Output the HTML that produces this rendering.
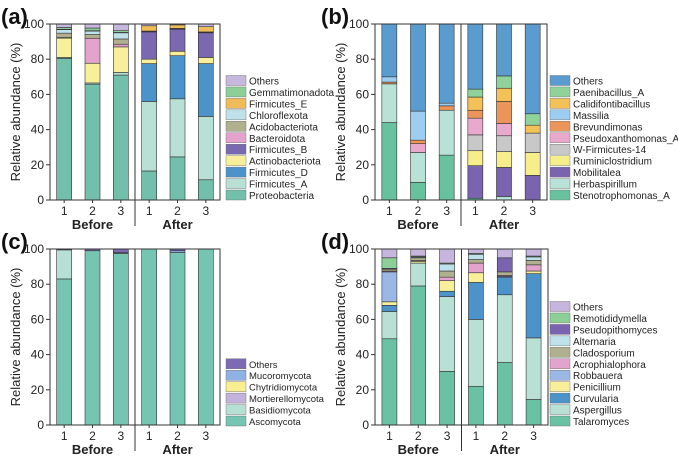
<!DOCTYPE html>
<html><head><meta charset="utf-8"><style>
body{margin:0;background:#fff;}
svg text{font-family:"Liberation Sans",sans-serif;}
</style></head><body>
<svg id="c" width="678" height="457" xmlns="http://www.w3.org/2000/svg"></svg>
<script>
const samples = ["1","2","3","1","2","3"];
const yTicks = [0,20,40,60,80,100];
// Panel a
const aSeries = ["Proteobacteria","Firmicutes_A","Firmicutes_D","Actinobacteriota","Firmicutes_B","Bacteroidota","Acidobacteriota","Chloroflexota","Firmicutes_E","Gemmatimonadota","Others"];
const aColors = ["#72c0ac","#b9e0d5","#4b93c9","#f7ef9a","#7a68b0","#e3a3cc","#b0b08e","#bfe1ea","#f0bc5a","#8ccf97","#c6b7dc"];
const aValues = [
 [80.5,0.5,0,11,0,0.3,2.5,2,0.2,1,2],
 [65.8,0.7,0,11.2,0,14.2,2.1,2,0.2,1.5,2.3],
 [71,1.5,0,14.5,0,1.5,3,3.5,0.2,1,3.8],
 [16.5,39.5,21.5,2.5,15.5,0,0.3,0.2,3,0,1],
 [24.5,33,24.5,2.5,12.5,0,0.3,0.2,2,0,0.5],
 [11.5,36,30,3.5,14,0,0.3,0.2,3,0,1.5]];
// Panel b
const bSeries = ["Stenotrophomonas_A","Herbaspirillum","Mobilitalea","Ruminiclostridium","W-Firmicutes-14","Pseudoxanthomonas_A","Brevundimonas","Massilia","Calidifontibacillus","Paenibacillus_A","Others"];
const bColors = ["#68c2a0","#b8e2d5","#7a64b0","#f6ee8a","#c8c8c8","#e9a9cc","#ec955a","#9dcdf0","#f2c158","#8fd39a","#5a9ccf"];
const bValues = [
 [44,22,0,0,0,0,1,3,0,0,30],
 [10,17,0,0,0,5,2,16.5,0,0,49.5],
 [25.5,25.5,0,0,0,0,2.5,1.5,0,0,45],
 [1,0,18.5,8.5,9,9.5,4.5,0,7.5,4.5,37],
 [0,2,16.5,9,9,7,12.5,0,7.5,7,29.5],
 [0,0,14,13,11,0,0,0,4.5,6.5,51]];
// Panel c
const cSeries = ["Ascomycota","Basidiomycota","Mortierellomycota","Chytridiomycota","Mucoromycota","Others"];
const cColors = ["#76c5b2","#b6e0d4","#c3b2dc","#f7ef90","#8fb1e3","#7c6bb3"];
const cValues = [
 [83,16.5,0,0,0,0.5],
 [99,0,0,0,0,1],
 [97.5,0,0,0,0.5,2],
 [100,0,0,0,0,0],
 [98,0,0,0,1,1],
 [100,0,0,0,0,0]];
// Panel d
const dSeries = ["Talaromyces","Aspergillus","Curvularia","Penicillium","Robbauera","Acrophialophora","Cladosporium","Alternaria","Pseudopithomyces","Remotididymella","Others"];
const dColors = ["#6bc1a4","#b9e0d5","#4b93c9","#f7ef9a","#9ab7e6","#e3a3cc","#b0b08e","#bfe1ea","#7a64b0","#8ccf97","#c6b5dc"];
const dValues = [
 [49,15.5,3.5,2,17,0.5,1,0,0.5,6,5],
 [79,13,0,1,0,0.5,1.5,0.5,0,0.5,4],
 [30.5,42.5,3,6,0,2,3.5,4,0,0.5,8],
 [22,38,21,5.5,0,5.5,2,3,0,0.5,2.5],
 [35.5,38.5,10,0,0.5,0.5,2,0,8,0,5],
 [14.5,35,36.5,1.5,0,3.5,2.5,2,0,0.5,4]];

const svg = document.getElementById('c');
const NS = "http://www.w3.org/2000/svg";
function mk(tag, attrs, parent){const e=document.createElementNS(NS,tag);for(const k in attrs)e.setAttribute(k,attrs[k]);(parent||svg).appendChild(e);return e;}

function panel(cfg, series, colors, values){
  const g = mk('g',{});
  
  
  const x0=cfg.x0, x1=cfg.x1, yT=cfg.yT, yB=cfg.yB;
  const yS = v => yB - v*(yB-yT)/100;
  const xS = i => x0 + (x1-x0)*(i+0.5)/6;
  const bw = 15;
  values.forEach((vals,i)=>{
    let acc=0;
    vals.forEach((v,j)=>{
      if(v<=0) return;
      const r = mk('rect',{x:xS(i)-bw/2,y:yS(acc+v),width:bw,height:yS(acc)-yS(acc+v),fill:colors[j],stroke:'#333','stroke-width':0.6},g);
      
      
      acc+=v;
    });
  });
  const f = mk('rect',{x:x0,y:yT,width:x1-x0,height:yB-yT,fill:'none',stroke:'#333','stroke-width':1},g);
  
  
  const dx = (x0+x1)/2;
  const dv = mk('line',{x1:dx,x2:dx,y1:yT,y2:yB+26,stroke:'#333','stroke-width':1},g);
  
  
  yTicks.forEach(t=>{
    mk('line',{x1:x0-4,x2:x0,y1:yS(t),y2:yS(t),stroke:'#333'},g);
    const tx = mk('text',{x:x0-6,y:yS(t)+4,'text-anchor':'end','font-size':12,fill:'#222'},g);
    tx.textContent=t;
    
    
  });
  samples.forEach((s,i)=>{
    mk('line',{x1:xS(i),x2:xS(i),y1:yB,y2:yB+3,stroke:'#333'},g);
    const tx = mk('text',{x:xS(i),y:yB+15,'text-anchor':'middle','font-size':12,fill:'#222'},g);
    tx.textContent=s;
    
    
  });
  const b1 = mk('text',{x:xS(1),y:yB+29,'text-anchor':'middle','font-size':13,'font-weight':'bold',fill:'#222'},g);
  b1.textContent='Before';
  
  
  const b2 = mk('text',{x:xS(4),y:yB+29,'text-anchor':'middle','font-size':13,'font-weight':'bold',fill:'#222'},g);
  b2.textContent='After';
  
  
  const yl = mk('text',{x:0,y:0,'text-anchor':'middle','font-size':13,fill:'#222',transform:`translate(${x0-30},${(yT+yB)/2}) rotate(-90)`},g);
  yl.textContent='Relative abundance (%)';
  
  
  const pl = mk('text',{x:cfg.lx,y:yT,'font-size':22,'font-weight':'bold','font-family':'"Liberation Serif",serif',fill:'#111'},g);
  pl.textContent='('+cfg.id+')';
  
  
  const n = series.length;
  for(let k=0;k<n;k++){
    const j = n-1-k;
    const y = cfg.legBot - (n-1-k)*11.45;
    const le = mk('g',{},g);
    
    
    mk('rect',{x:cfg.legX,y:y-5,width:20,height:10,fill:colors[j],stroke:'#666','stroke-width':0.4},le);
    const t = mk('text',{x:cfg.legX+23,y:y+4,'font-size':cfg.fs,fill:'#222'},le);
    t.textContent=series[j];
  }
}
panel({id:'a',x0:50,x1:220,yT:24,yB:200,lx:1,legX:226,legBot:195,fs:10},aSeries,aColors,aValues);
panel({id:'b',x0:375,x1:547,yT:24,yB:200,lx:321,legX:550,legBot:195,fs:10},bSeries,bColors,bValues);
panel({id:'c',x0:50,x1:220,yT:249,yB:425,lx:1,legX:226,legBot:421,fs:9.5},cSeries,cColors,cValues);
panel({id:'d',x0:375,x1:548,yT:249,yB:425,lx:321,legX:550,legBot:421,fs:10},dSeries,dColors,dValues);
</script>
</body></html>
